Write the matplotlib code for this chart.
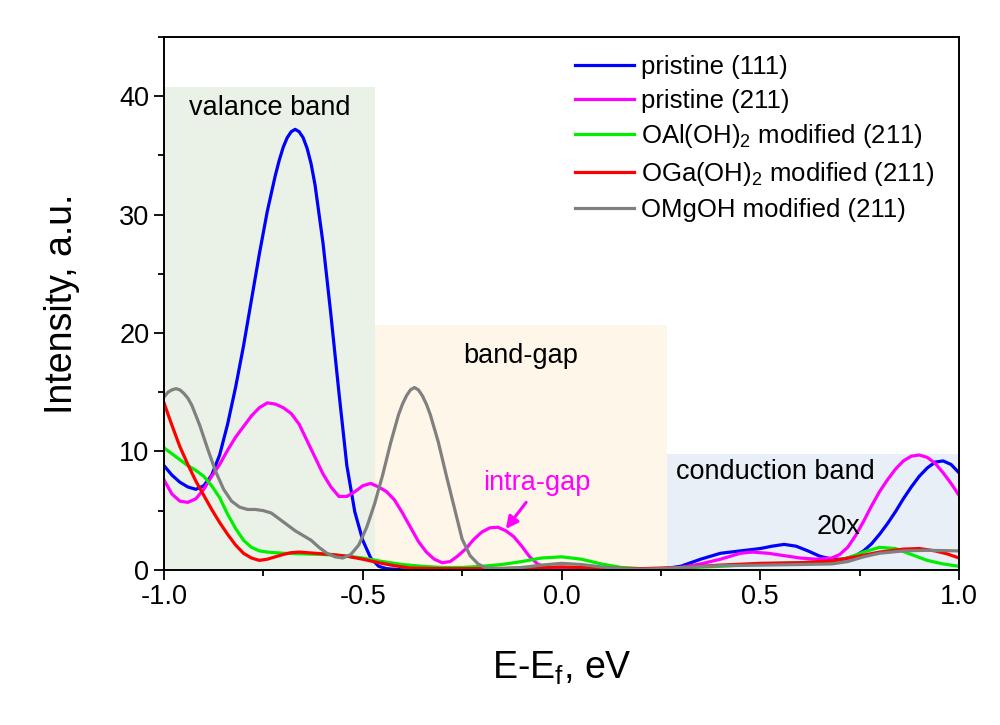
import matplotlib
matplotlib.use('Agg')
import matplotlib.pyplot as plt
from matplotlib.ticker import MultipleLocator

plt.rcParams['font.family'] = ['Liberation Sans', 'DejaVu Sans']
plt.rcParams['mathtext.default'] = 'regular'

# pristine (111)
x_p111 = [-1.0, -0.98, -0.96, -0.94, -0.92, -0.90, -0.88, -0.86, -0.84, -0.82, -0.80, -0.78,
          -0.76, -0.74, -0.72, -0.71, -0.70, -0.69, -0.68, -0.67, -0.66, -0.65, -0.64, -0.63,
          -0.62, -0.60, -0.58, -0.56, -0.54, -0.52, -0.50, -0.48, -0.46, -0.44, -0.40, 0.0,
          0.25, 0.30, 0.35, 0.40, 0.45, 0.50, 0.53, 0.56, 0.59, 0.62, 0.65, 0.68, 0.71, 0.74,
          0.76, 0.78, 0.80, 0.82, 0.84, 0.86, 0.88, 0.90, 0.92, 0.94, 0.96, 0.98, 1.0]
y_p111 = [8.8, 8.0, 7.4, 7.0, 6.8, 7.1, 8.0, 9.7, 12.3, 15.4, 18.9, 22.8,
          26.7, 30.3, 33.3, 34.6, 35.7, 36.5, 37.0, 37.2, 37.0, 36.5, 35.6, 34.3,
          32.5, 27.6, 21.5, 15.0, 8.8, 4.9, 2.5, 1.0, 0.3, 0.1, 0.0, 0.0,
          0.05, 0.3, 0.9, 1.4, 1.6, 1.8, 2.0, 2.15, 2.0, 1.6, 1.15, 0.9, 0.9, 1.2,
          1.6, 2.2, 3.0, 3.9, 4.9, 6.0, 7.0, 7.9, 8.6, 9.1, 9.2, 8.9, 8.2]

# pristine (211)
x_p211 = [-1.0, -0.98, -0.96, -0.94, -0.92, -0.90, -0.88, -0.86, -0.84, -0.82, -0.80, -0.78,
          -0.76, -0.74, -0.72, -0.70, -0.68, -0.66, -0.64, -0.62, -0.60, -0.58, -0.56, -0.54,
          -0.52, -0.50, -0.48, -0.46, -0.44, -0.42, -0.40, -0.38, -0.36, -0.34, -0.32, -0.30,
          -0.28, -0.26, -0.24, -0.22, -0.20, -0.18, -0.16, -0.14, -0.12, -0.10, -0.08, -0.06,
          -0.04, -0.02, 0.0, 0.1, 0.2, 0.25, 0.30, 0.35, 0.40, 0.45, 0.48, 0.52, 0.56, 0.60,
          0.64, 0.68, 0.70, 0.72, 0.74, 0.76, 0.78, 0.80, 0.82, 0.84, 0.86, 0.88, 0.90, 0.92,
          0.94, 0.96, 0.98, 1.0]
y_p211 = [7.6, 6.4, 5.8, 5.7, 6.0, 6.8, 7.9, 8.9, 10.1, 11.2, 12.1, 13.0,
          13.7, 14.1, 14.0, 13.7, 13.2, 12.3, 10.9, 9.5, 8.1, 7.0, 6.2, 6.2,
          6.6, 7.1, 7.3, 7.0, 6.6, 5.9, 4.8, 3.6, 2.4, 1.5, 0.9, 0.6,
          0.7, 1.2, 1.8, 2.6, 3.2, 3.55, 3.6, 3.3, 2.8, 2.0, 1.1, 0.5,
          0.2, 0.15, 0.1, 0.05, 0.05, 0.1, 0.2, 0.5, 0.9, 1.4, 1.5, 1.4, 1.2, 1.0,
          0.9, 1.0, 1.3, 1.9, 2.9, 4.1, 5.4, 6.6, 7.6, 8.5, 9.2, 9.6, 9.7, 9.5,
          9.0, 8.2, 7.3, 6.3]

# OAl(OH)2 modified (211)
x_al = [-1.0, -0.98, -0.96, -0.94, -0.92, -0.90, -0.88, -0.86, -0.84, -0.82, -0.80, -0.78,
        -0.76, -0.74, -0.70, -0.65, -0.60, -0.55, -0.50, -0.45, -0.40, -0.35, -0.30, -0.25,
        -0.20, -0.15, -0.10, -0.05, 0.0, 0.05, 0.10, 0.15, 0.20, 0.25, 0.30, 0.40, 0.50,
        0.60, 0.68, 0.72, 0.76, 0.80, 0.84, 0.88, 0.92, 0.96, 1.0]
y_al = [10.3, 9.8, 9.3, 8.8, 8.4, 7.9, 7.1, 6.1, 4.7, 3.5, 2.5, 1.9,
        1.6, 1.5, 1.4, 1.35, 1.3, 1.2, 1.0, 0.7, 0.45, 0.3, 0.2, 0.2,
        0.3, 0.45, 0.7, 1.0, 1.1, 0.9, 0.5, 0.2, 0.1, 0.1, 0.15, 0.3, 0.5,
        0.6, 0.7, 1.0, 1.5, 1.9, 1.8, 1.3, 0.8, 0.5, 0.3]

# OGa(OH)2 modified (211)
x_ga = [-1.0, -0.98, -0.96, -0.94, -0.92, -0.90, -0.88, -0.86, -0.84, -0.82, -0.80, -0.78,
        -0.76, -0.74, -0.72, -0.70, -0.68, -0.66, -0.62, -0.58, -0.54, -0.50, -0.46, -0.42,
        -0.38, -0.30, -0.20, -0.10, 0.0, 0.10, 0.20, 0.30, 0.40, 0.50, 0.60, 0.68, 0.74,
        0.80, 0.86, 0.90, 0.94, 0.97, 1.0]
y_ga = [14.1, 12.2, 10.4, 8.9, 7.5, 6.3, 5.1, 4.0, 3.0, 2.1, 1.4, 1.0,
        0.8, 0.9, 1.1, 1.3, 1.45, 1.5, 1.4, 1.3, 1.15, 0.9, 0.6, 0.35,
        0.15, 0.1, 0.1, 0.15, 0.25, 0.15, 0.1, 0.2, 0.4, 0.55, 0.6, 0.75, 1.1,
        1.5, 1.75, 1.8, 1.6, 1.35, 1.0]

# OMgOH modified (211)
x_mg = [-1.0, -0.99, -0.98, -0.97, -0.96, -0.95, -0.94, -0.93, -0.91, -0.89, -0.87, -0.85,
        -0.83, -0.81, -0.79, -0.77, -0.75, -0.73, -0.71, -0.69, -0.67, -0.65, -0.63, -0.61,
        -0.59, -0.57, -0.55, -0.53, -0.51, -0.49, -0.47, -0.45, -0.43, -0.41, -0.40, -0.39,
        -0.38, -0.37, -0.36, -0.35, -0.34, -0.33, -0.31, -0.29, -0.27, -0.25, -0.23, -0.21,
        -0.19, -0.15, -0.10, -0.05, 0.0, 0.05, 0.10, 0.15, 0.20, 0.25, 0.30, 0.40, 0.50,
        0.60, 0.68, 0.72, 0.76, 0.80, 0.86, 0.92, 1.0]
y_mg = [14.6, 15.0, 15.2, 15.3, 15.2, 14.9, 14.5, 13.9, 12.2, 10.2, 8.3, 6.8,
        5.8, 5.3, 5.1, 5.1, 5.0, 4.8, 4.3, 3.8, 3.3, 2.9, 2.5, 1.9,
        1.4, 1.1, 1.0, 1.3, 2.1, 3.6, 5.6, 8.0, 10.7, 13.1, 14.0, 14.7,
        15.2, 15.4, 15.2, 14.7, 14.0, 13.1, 10.8, 8.0, 5.3, 2.6, 1.2, 0.5,
        0.15, 0.1, 0.2, 0.4, 0.55, 0.45, 0.25, 0.1, 0.05, 0.1, 0.2, 0.35, 0.4,
        0.45, 0.5, 0.7, 1.1, 1.4, 1.6, 1.65, 1.6]

# shaded energy regions
band_names = ['valance band', 'band-gap', 'conduction band']
band_edges = [-1.0, -0.47, 0.265, 1.0]
band_tops = [40.8, 20.7, 9.8]
band_colors = ['#eaf2e7', '#fdf6e9', '#e9eff7']

fig = plt.figure(figsize=(10, 7.25), dpi=100)
ax = fig.add_axes([0.164, 0.214, 0.795, 0.735])

for i in range(3):
    ax.fill_between([band_edges[i], band_edges[i + 1]], 0, band_tops[i],
                    color=band_colors[i], lw=0, zorder=0)

lw = 2.3
ax.plot(x_p111, y_p111, color='#0000ff', lw=lw, label='pristine (111)')
ax.plot(x_p211, y_p211, color='#ff00ff', lw=lw, label='pristine (211)')
ax.plot(x_al, y_al, color='#00ee00', lw=lw, label='OAl(OH)$_2$ modified (211)')
ax.plot(x_ga, y_ga, color='#ff0000', lw=lw, label='OGa(OH)$_2$ modified (211)')
ax.plot(x_mg, y_mg, color='#808080', lw=lw, label='OMgOH modified (211)')

fs = 19.5
ax.text(-0.735, 39.0, band_names[0], fontsize=fs, ha='center', va='center')
ax.text(-0.104, 18.1, band_names[1], fontsize=fs, ha='center', va='center')
ax.text(0.537, 8.3, band_names[2], fontsize=fs, ha='center', va='center')
ax.text(0.696, 3.6, '20x', fontsize=fs, ha='center', va='center')
ax.text(-0.062, 7.3, 'intra-gap', fontsize=fs, color='#ff00ff', ha='center', va='center')
ax.annotate('', xy=(-0.14, 3.45), xytext=(-0.089, 5.7),
            arrowprops=dict(arrowstyle='-|>', color='#ff00ff', lw=2.2,
                            mutation_scale=18, shrinkA=0, shrinkB=0))

ax.set_xlim(-1.0, 1.0)
ax.set_ylim(0, 45)
ax.xaxis.set_major_locator(MultipleLocator(0.5))
ax.xaxis.set_minor_locator(MultipleLocator(0.25))
ax.yaxis.set_major_locator(MultipleLocator(10))
ax.yaxis.set_minor_locator(MultipleLocator(5))
ax.xaxis.set_major_formatter(plt.FuncFormatter(lambda v, p: '%.1f' % v))
ax.tick_params(which='both', direction='out', top=False, right=False,
               labelsize=fs, width=1.3)
ax.tick_params(which='major', length=7)
ax.tick_params(which='minor', length=4)
for s in ax.spines.values():
    s.set_linewidth(1.4)

ax.set_xlabel('E-E$_{f}$, eV', fontsize=27, labelpad=28)
ax.set_ylabel('Intensity, a.u.', fontsize=27, labelpad=28)

ax.legend(loc='upper left', bbox_to_anchor=(0.494, 1.0), frameon=False,
          fontsize=18.5, handlelength=2.3, handletextpad=0.27, labelspacing=0.38,
          borderaxespad=0.3)

plt.savefig('out.png')
